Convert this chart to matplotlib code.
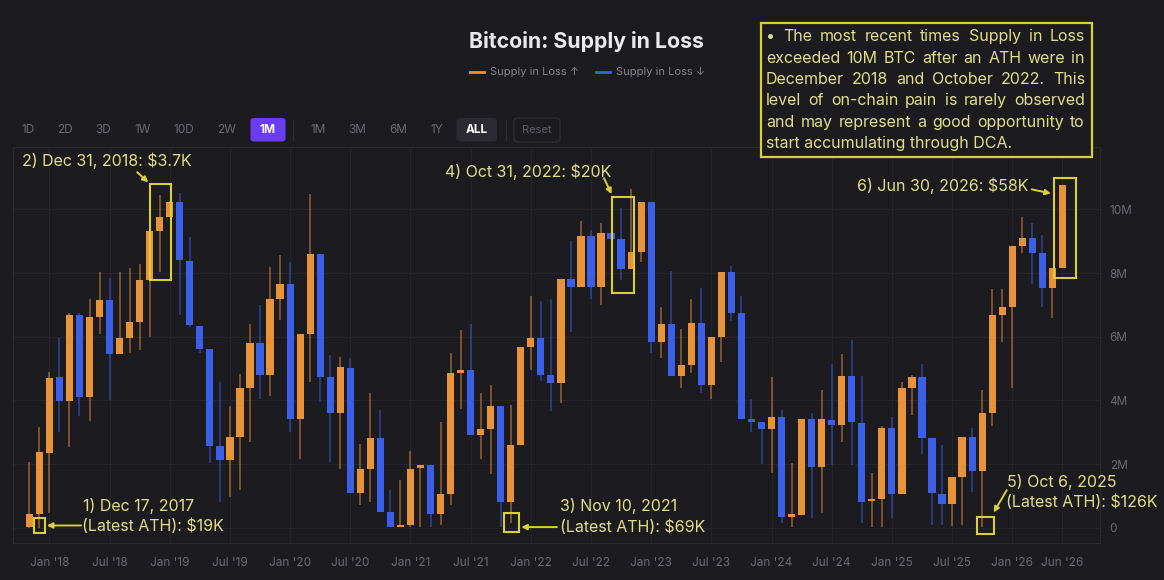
import matplotlib
matplotlib.use("Agg")
import matplotlib.pyplot as plt
import pandas as pd
from matplotlib.patches import Rectangle, FancyBboxPatch
from matplotlib.lines import Line2D

plt.rcParams['font.family'] = ['Inter', 'DejaVu Sans']

# ---------------- data: Supply in Loss (million BTC), monthly candles Nov 2017 .. Jun 2026
start_month = "2017-11"
opens = [0.03, 0.43, 2.36, 4.72, 3.99, 6.68, 4.12, 6.63, 7.15, 5.46, 5.95, 6.47, 7.78, 9.33, 9.77, 10.22,
         8.39, 6.35, 5.60, 2.57, 2.13, 2.86, 4.38, 5.79, 4.80, 7.20, 7.65, 3.43, 6.08, 8.60, 4.72, 3.61,
         5.01, 1.10, 1.83, 2.81, 0.50, 0.03, 0.08, 1.88, 1.97, 0.43, 1.06, 4.85, 4.97, 2.91, 3.09, 3.82,
         0.82, 2.60, 5.69, 5.95, 4.80, 4.55, 7.80, 7.55, 9.16, 7.55, 9.27, 9.06, 8.12, 8.67, 10.22, 5.84,
         6.40, 4.76, 5.11, 6.44, 4.48, 5.98, 8.04, 6.73, 3.43, 3.33, 3.09, 3.49, 0.35, 0.40, 3.40, 1.90,
         3.38, 3.23, 4.76, 3.30, 0.84, 0.89, 3.12, 1.06, 4.38, 4.72, 2.81, 1.06, 0.76, 1.58, 2.86, 1.79,
         3.61, 6.68, 6.92, 8.85, 9.09, 8.62, 7.52, 8.15]
highs = [2.07, 3.17, 4.90, 5.95, 6.73, 6.75, 7.20, 8.02, 7.86, 8.02, 8.15, 8.30, 9.33, 10.45, 10.25, 10.52,
         9.14, 6.35, 5.60, 4.59, 3.82, 4.83, 6.40, 7.00, 8.20, 8.57, 8.36, 6.08, 10.48, 8.60, 5.42, 5.37,
         5.32, 2.63, 4.24, 3.70, 1.20, 1.50, 2.42, 1.97, 1.97, 3.31, 5.50, 6.21, 6.40, 4.22, 4.48, 3.82,
         3.85, 5.69, 7.28, 7.12, 7.20, 7.80, 9.02, 9.64, 9.35, 9.56, 9.27, 10.03, 10.63, 10.22, 10.22, 6.94,
         8.07, 6.23, 7.20, 7.52, 5.98, 8.04, 8.22, 7.28, 4.03, 3.33, 4.72, 3.70, 2.02, 3.40, 3.61, 4.32,
         5.14, 5.46, 5.90, 4.76, 1.73, 3.19, 3.47, 4.58, 4.80, 5.14, 2.81, 2.60, 1.58, 2.86, 3.12, 4.32,
         7.49, 7.49, 8.85, 9.75, 9.58, 9.19, 8.15, 10.76]
lows = [0.00, 0.00, 0.45, 3.02, 2.54, 3.51, 3.36, 6.10, 4.01, 5.46, 5.48, 5.58, 6.00, 8.04, 9.77, 6.68,
        6.32, 5.50, 2.02, 0.82, 0.97, 1.18, 2.70, 4.03, 4.14, 6.54, 3.02, 2.15, 4.59, 3.96, 2.07, 1.83,
        1.10, 0.71, 0.82, 0.50, 0.03, 0.03, 0.03, 0.03, 0.03, 0.08, 0.71, 3.72, 2.91, 2.15, 1.69, 0.03,
        0.14, 2.60, 4.95, 4.62, 3.68, 3.93, 6.16, 7.55, 7.17, 6.99, 9.06, 7.78, 8.12, 8.36, 5.48, 5.32,
        4.76, 4.38, 4.85, 4.24, 4.03, 5.21, 6.50, 3.40, 3.02, 2.00, 1.73, 0.14, 0.03, 0.40, 0.29, 0.47,
        1.97, 2.70, 1.97, 0.14, 0.03, 0.03, 0.29, 1.06, 3.54, 2.31, 0.08, 0.08, 0.05, 0.08, 1.13, 0.03,
        3.19, 5.84, 4.38, 8.62, 7.65, 6.92, 6.58, 8.15]
closes = [0.43, 2.39, 4.69, 3.99, 6.68, 4.12, 6.63, 7.15, 5.46, 5.95, 6.47, 7.78, 9.33, 9.75, 10.22, 8.41,
          6.37, 5.60, 2.57, 2.13, 2.86, 4.38, 5.79, 4.80, 7.20, 7.65, 3.43, 6.08, 8.60, 4.74, 3.61, 5.04,
          1.10, 1.83, 2.81, 0.50, 0.03, 0.08, 1.86, 1.97, 0.43, 1.06, 4.85, 4.97, 2.91, 3.09, 3.82, 0.82,
          2.60, 5.69, 5.95, 4.80, 4.55, 7.80, 7.55, 9.16, 7.55, 9.27, 9.06, 8.12, 8.67, 10.22, 5.84, 6.40,
          4.76, 5.11, 6.44, 4.48, 5.98, 8.04, 6.73, 3.40, 3.33, 3.09, 3.49, 0.35, 0.40, 3.40, 1.90, 3.40,
          3.23, 4.76, 3.33, 0.82, 0.90, 3.12, 1.06, 4.38, 4.72, 2.81, 1.08, 0.76, 1.58, 2.86, 1.79, 3.61,
          6.68, 6.92, 8.85, 9.09, 8.62, 7.52, 8.15, 10.76]
yticks = [0, 2, 4, 6, 8, 10]
ytick_labels = ["0", "2M", "4M", "6M", "8M", "10M"]
title = "Bitcoin: Supply in Loss"
legend_labels = ["Supply in Loss \u2191", "Supply in Loss \u2193"]
buttons_left = ["1D", "2D", "3D", "1W", "10D", "2W"]
buttons_mid = ["1M", "3M", "6M", "1Y"]
box_lines = ["\u2022 The most recent times Supply in Loss",
             "exceeded 10M BTC after an ATH were in",
             "December 2018 and October 2022. This",
             "level of on-chain pain is rarely observed",
             "and may represent a good opportunity to",
             "start accumulating through DCA."]

months = pd.period_range(start_month, periods=len(opens), freq="M")

# ---------------- style
W, H = 1164, 580
BG = "#1c1b20"
UP = "#e8923a"
DOWN = "#3b5fe6"
YEL = "#d9cf3c"
YTXT = "#e0df88"
GRID = "#26252c"
TICK = "#6c6b75"

def fx(x):
    return x / W

def fy(y):
    return 1 - y / H

fig = plt.figure(figsize=(W / 100, H / 100), dpi=100, facecolor=BG)
ax = fig.add_axes([13 / W, 37 / H, 1087 / W, 396 / H], facecolor=BG)

x = list(range(len(opens)))
ups = [c >= o for o, c in zip(opens, closes)]
cols = [UP if u else DOWN for u in ups]
bottoms = [min(o, c) for o, c in zip(opens, closes)]
heights = [max(abs(c - o), 0.07) for o, c in zip(opens, closes)]

ax.vlines(x, lows, highs, colors=cols, linewidth=1.1, alpha=0.6, zorder=2)
ax.bar(x, heights, bottom=bottoms, width=0.72, color=cols, linewidth=0, zorder=3)

ax.set_xlim(-1.63, 106.75)
ax.set_ylim(-0.48, 11.96)

tick_pos = [i for i, p in enumerate(months) if p.month in (1, 7)] + [len(months) - 1]
tick_lab = [months[i].strftime("%b '%y") for i in tick_pos]
ax.set_xticks(tick_pos)
ax.set_xticklabels(tick_lab)
ax.set_yticks(yticks)
ax.set_yticklabels(ytick_labels)
ax.yaxis.tick_right()
ax.tick_params(axis="x", length=0, pad=10, labelsize=8.5, labelcolor=TICK)
ax.tick_params(axis="y", length=0, pad=7, labelsize=8.5, labelcolor=TICK)
for lab in ax.get_yticklabels():
    lab.set_horizontalalignment("left")
ax.grid(True, color=GRID, linewidth=0.8, zorder=0)
ax.set_axisbelow(True)
for s in ax.spines.values():
    s.set_color("#2a2930")
    s.set_linewidth(0.8)

# ---------------- annotations (data coordinates: month index, million BTC)
afs = 11.5
def box(x0, x1, y0, y1):
    ax.add_patch(Rectangle((x0, y0), x1 - x0, y1 - y0, fill=False, edgecolor=YEL,
                           linewidth=1.5, zorder=5, clip_on=False))

def arrow(xs, ys, xe, ye):
    ax.annotate("", xy=(xe, ye), xytext=(xs, ys),
                arrowprops=dict(arrowstyle="-|>", color=YEL, lw=1.4, mutation_scale=8,
                                shrinkA=0, shrinkB=0), zorder=6)

# 1) Dec 2017
box(0.47, 1.57, -0.18, 0.31)
arrow(5.16, 0.07, 1.75, 0.07)
ax.text(5.3, 0.68, "1) Dec 17, 2017", color=YTXT, fontsize=afs, va="center", ha="left")
ax.text(5.2, 0.04, "(Latest ATH): $19K", color=YTXT, fontsize=afs, va="center", ha="left")
# 2) Dec 2018
box(12.03, 14.12, 7.77, 10.79)
arrow(10.75, 11.17, 11.85, 10.85)
ax.text(-0.73, 11.52, "2) Dec 31, 2018: $3.7K", color=YTXT, fontsize=afs, va="center", ha="left")
# 3) Nov 2021
box(47.3, 48.8, -0.14, 0.46)
arrow(52.6, 0.02, 49.05, 0.02)
ax.text(52.9, 0.68, "3) Nov 10, 2021", color=YTXT, fontsize=afs, va="center", ha="left")
ax.text(52.9, 0.02, "(Latest ATH): $69K", color=YTXT, fontsize=afs, va="center", ha="left")
# 4) Oct 2022
box(58.1, 60.3, 7.36, 10.40)
arrow(57.3, 10.98, 58.05, 10.48)
ax.text(41.45, 11.18, "4) Oct 31, 2022: $20K", color=YTXT, fontsize=afs, va="center", ha="left")
# 5) Oct 2025
box(94.46, 96.19, -0.20, 0.35)
arrow(97.45, 1.18, 96.15, 0.48)
ax.text(97.5, 1.44, "5) Oct 6, 2025", color=YTXT, fontsize=afs, va="center", ha="left")
ax.text(97.4, 0.81, "(Latest ATH): $126K", color=YTXT, fontsize=afs, va="center", ha="left")
# 6) Jun 2026
box(102.2, 104.4, 7.85, 10.99)
arrow(99.94, 10.63, 101.85, 10.50)
ax.text(99.6, 10.73, "6) Jun 30, 2026: $58K", color=YTXT, fontsize=afs, va="center", ha="right")

# ---------------- title / legend
fig.text(fx(586.5), fy(42), title, ha="center", va="center", fontsize=15.3,
         fontweight="bold", color="#e9e9ee")
fig.add_artist(Line2D([fx(470), fx(484)], [fy(72), fy(72)], color=UP, lw=2))
fig.text(fx(490), fy(72), legend_labels[0], ha="left", va="center", fontsize=8, color="#85848e")
fig.add_artist(Line2D([fx(596), fx(610)], [fy(72), fy(72)], color=DOWN, lw=2))
fig.text(fx(616), fy(72), legend_labels[1], ha="left", va="center", fontsize=8, color="#85848e")

# ---------------- toolbar buttons
by = 130
for lab, cx in zip(buttons_left, [28, 65.5, 103, 143, 184, 227]):
    fig.text(fx(cx), fy(by), lab, ha="center", va="center", fontsize=8.5, color=TICK)
fig.add_artist(FancyBboxPatch((fx(250.5), fy(141.5)), fx(35), 23.5 / H,
                              boxstyle="round,pad=0,rounding_size=0.004",
                              facecolor="#6a3cf0", edgecolor="none"))
fig.text(fx(268), fy(by), "1M", ha="center", va="center", fontsize=8.5, color="white",
         fontweight="bold")
fig.add_artist(Line2D([fx(293), fx(293)], [fy(120), fy(140)], color="#2e2d35", lw=1))
for lab, cx in zip(buttons_mid, [318.5, 357.5, 398.5, 437]):
    fig.text(fx(cx), fy(by), lab, ha="center", va="center", fontsize=8.5, color=TICK)
fig.add_artist(FancyBboxPatch((fx(456.5), fy(141.5)), fx(40.5), 23.5 / H,
                              boxstyle="round,pad=0,rounding_size=0.004",
                              facecolor="#2c2b34", edgecolor="none"))
fig.text(fx(476.5), fy(by), "ALL", ha="center", va="center", fontsize=8.5, color="white",
         fontweight="bold")
fig.add_artist(Line2D([fx(506), fx(506)], [fy(120), fy(140)], color="#2e2d35", lw=1))
fig.add_artist(FancyBboxPatch((fx(514), fy(142)), fx(46), 24 / H,
                              boxstyle="round,pad=0,rounding_size=0.004",
                              facecolor=BG, edgecolor="#2e2d35", lw=1))
fig.text(fx(537), fy(by), "Reset", ha="center", va="center", fontsize=8, color="#5f5e68")

# ---------------- commentary box (justified)
fig.add_artist(Rectangle((fx(761), fy(157)), fx(331), 134 / H, facecolor=BG,
                         edgecolor=YEL, lw=1.6, zorder=10))
renderer = fig.canvas.get_renderer()
left, right = 766, 1085
for i, line in enumerate(box_lines):
    yy = fy(36.7 + i * 21.4)
    if i == len(box_lines) - 1:
        fig.text(fx(left), yy, line, ha="left", va="center", fontsize=11.5, color=YTXT, zorder=11)
        continue
    words = line.split(" ")
    texts = [fig.text(0, yy, w, ha="left", va="center", fontsize=11.5, color=YTXT, zorder=11)
             for w in words]
    widths = [t.get_window_extent(renderer).width for t in texts]
    gap = (right - left - sum(widths)) / (len(words) - 1)
    xc = left
    for t, wdt in zip(texts, widths):
        t.set_x(fx(xc))
        xc += wdt + gap

fig.savefig("out.png", dpi=100, facecolor=BG)
